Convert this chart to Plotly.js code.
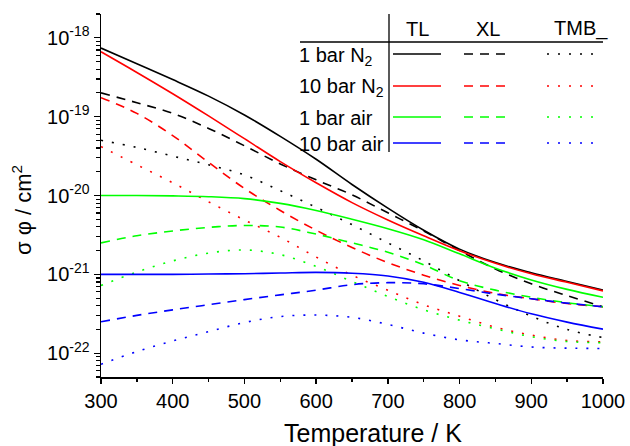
<!DOCTYPE html>
<html>
<head>
<meta charset="utf-8">
<script src="https://cdn.plot.ly/plotly-3.0.1.min.js"></script>
<style>
  html, body { margin: 0; padding: 0; background: #fff; }
  #chart { width: 630px; height: 446px; }
</style>
</head>
<body>
<div id="chart"></div>
<script>
// Temperature grid (K)
const temps = [300, 350, 400, 450, 500, 550, 600, 650, 700, 750, 800, 850, 900, 950, 1000];

// sigma*phi (cm^2) — TL model
const tl_n2_1   = [7.41e-19, 4.68e-19, 2.95e-19, 1.82e-19, 1.05e-19, 5.62e-20, 2.88e-20, 1.38e-20, 6.92e-21, 3.63e-21, 2.09e-21, 1.41e-21, 1.05e-21, 8.13e-22, 6.31e-22];
const tl_n2_10  = [6.64e-19, 3.63e-19, 1.95e-19, 1.02e-19, 5.25e-20, 2.69e-20, 1.45e-20, 8.13e-21, 4.90e-21, 3.09e-21, 2.00e-21, 1.38e-21, 1.02e-21, 7.94e-22, 6.17e-22];
const tl_air_1  = [1.00e-20, 1.00e-20, 9.89e-21, 9.66e-21, 9.12e-21, 7.94e-21, 6.46e-21, 5.01e-21, 3.80e-21, 2.75e-21, 1.82e-21, 1.20e-21, 8.51e-22, 6.46e-22, 5.13e-22];
const tl_air_10 = [1.00e-21, 1.00e-21, 1.00e-21, 1.01e-21, 1.02e-21, 1.04e-21, 1.06e-21, 1.035e-21, 9.55e-22, 7.94e-22, 5.89e-22, 4.27e-22, 3.16e-22, 2.48e-22, 2.02e-22];

// XL model
const xl_n2_1   = [2.00e-19, 1.50e-19, 1.10e-19, 7.08e-20, 4.27e-20, 2.51e-20, 1.58e-20, 1.02e-20, 6.03e-21, 3.55e-21, 2.00e-21, 1.17e-21, 7.59e-22, 5.37e-22, 3.89e-22];
const xl_n2_10  = [1.74e-19, 1.10e-19, 5.75e-20, 2.63e-20, 1.23e-20, 6.46e-21, 3.63e-21, 2.19e-21, 1.41e-21, 9.77e-22, 7.24e-22, 5.75e-22, 4.90e-22, 4.27e-22, 3.89e-22];
const xl_air_1  = [2.51e-21, 3.09e-21, 3.55e-21, 3.94e-21, 4.17e-21, 3.98e-21, 3.24e-21, 2.51e-21, 1.91e-21, 1.32e-21, 8.32e-22, 6.31e-22, 5.13e-22, 4.37e-22, 3.89e-22];
const xl_air_10 = [2.51e-22, 3.02e-22, 3.55e-22, 4.12e-22, 4.79e-22, 5.50e-22, 6.31e-22, 7.41e-22, 7.85e-22, 7.59e-22, 6.61e-22, 5.62e-22, 4.90e-22, 4.32e-22, 3.89e-22];

// TMB model
const tmb_n2_1   = [5.01e-20, 4.07e-20, 3.16e-20, 2.45e-20, 1.82e-20, 1.15e-20, 7.08e-21, 4.27e-21, 2.51e-21, 1.48e-21, 8.32e-22, 4.79e-22, 2.95e-22, 2.00e-22, 1.58e-22];
const tmb_n2_10  = [4.17e-20, 2.45e-20, 1.45e-20, 8.32e-21, 4.90e-21, 2.95e-21, 1.66e-21, 9.77e-22, 6.31e-22, 4.12e-22, 2.95e-22, 2.14e-22, 1.70e-22, 1.45e-22, 1.40e-22];
const tmb_air_1  = [7.24e-22, 1.07e-21, 1.48e-21, 1.86e-21, 2.04e-21, 1.78e-21, 1.26e-21, 8.13e-22, 5.25e-22, 3.55e-22, 2.63e-22, 2.04e-22, 1.62e-22, 1.41e-22, 1.36e-22];
const tmb_air_10 = [7.24e-23, 1.05e-22, 1.43e-22, 1.88e-22, 2.45e-22, 2.92e-22, 3.05e-22, 2.85e-22, 2.32e-22, 1.80e-22, 1.48e-22, 1.33e-22, 1.20e-22, 1.16e-22, 1.15e-22];

// Axis ticks and labels
const xTicks = [300, 400, 500, 600, 700, 800, 900, 1000];
const yTicks = [1e-22, 1e-21, 1e-20, 1e-19, 1e-18];
const yTickText = ['10<sup>-22</sup>', '10<sup>-21</sup>', '10<sup>-20</sup>', '10<sup>-19</sup>', '10<sup>-18</sup>'];

// Legend table text
const modelNames = ['TL', 'XL', 'TMB_'];
const conditionNames = ['1 bar N<sub>2</sub>', '10 bar N<sub>2</sub>', '1 bar air', '10 bar air'];

const colors = ['#000000', '#ff0000', '#00ff00', '#0000ff'];
const DASH = '9px,7px';
const DOT = '2px,9px';
const LW = 1.6;
const FONT = 'Liberation Sans, Arial, sans-serif';

// minor log ticks (2..9 of each decade)
const yMinor = [];
for (let d = -23; d <= -18; d++) {
  for (let m = 2; m <= 9; m++) yMinor.push(m * Math.pow(10, d));
}

const series = [
  [tl_n2_1, tl_n2_10, tl_air_1, tl_air_10],
  [xl_n2_1, xl_n2_10, xl_air_1, xl_air_10],
  [tmb_n2_1, tmb_n2_10, tmb_air_1, tmb_air_10]
];
const dashes = ['solid', DASH, DOT];

const traces = [];
// dotted first, then dashed, then solid on top
for (let k = 2; k >= 0; k--) {
  for (let c = 0; c < 4; c++) {
    traces.push({
      x: temps, y: series[k][c], type: 'scatter', mode: 'lines',
      line: { color: colors[c], width: LW, dash: dashes[k], shape: 'spline', smoothing: 1 },
      hoverinfo: 'skip', showlegend: false
    });
  }
}

// plot-area geometry in pixels (for the legend table)
const PL = 101, PR = 603, PT = 14, PB = 377;
const px = v => (v - PL) / (PR - PL);
const py = v => 1 - (v - PT) / (PB - PT);

const shapes = [
  { type: 'line', xref: 'paper', yref: 'paper', x0: px(300), x1: px(603), y0: py(42), y1: py(42), line: { color: '#000', width: 1.3 } },
  { type: 'line', xref: 'paper', yref: 'paper', x0: px(389), x1: px(389), y0: py(14), y1: py(152), line: { color: '#000', width: 1.3 } }
];
const rowY = [54, 86, 117, 143];
const sampleX = [[393, 441], [464, 509], [547, 593]];
for (let c = 0; c < 4; c++) {
  for (let k = 0; k < 3; k++) {
    shapes.push({
      type: 'line', xref: 'paper', yref: 'paper',
      x0: px(sampleX[k][0]), x1: px(sampleX[k][1]), y0: py(rowY[c]), y1: py(rowY[c]),
      line: { color: colors[c], width: LW, dash: dashes[k] }
    });
  }
}

const annotations = [];
const headX = [417, 488, 552];
const headAnchor = ['center', 'center', 'left'];
modelNames.forEach((t, i) => annotations.push({
  text: t, xref: 'paper', yref: 'paper', x: px(headX[i]), y: py(29),
  xanchor: headAnchor[i], yanchor: 'middle', showarrow: false,
  font: { family: FONT, size: 20, color: '#000' }
}));
const labelY = [57, 87, 118, 144];
conditionNames.forEach((t, i) => annotations.push({
  text: t, xref: 'paper', yref: 'paper', x: px(297), y: py(labelY[i]),
  xanchor: 'left', yanchor: 'middle', showarrow: false,
  font: { family: FONT, size: 20, color: '#000' }
}));
// axis titles
annotations.push({
  text: 'Temperature / K', xref: 'paper', yref: 'paper', x: px(373), y: py(433),
  xanchor: 'center', yanchor: 'middle', showarrow: false,
  font: { family: FONT, size: 25, color: '#000' }
});
annotations.push({
  text: 'σ φ / cm<sup>2</sup>', xref: 'paper', yref: 'paper', x: px(22), y: py(210),
  xanchor: 'center', yanchor: 'middle', textangle: -90, showarrow: false,
  font: { family: FONT, size: 22, color: '#000' }
});

const yRange = [Math.log10(5e-23), Math.log10(2e-18)];
const axisCommon = {
  showgrid: false, zeroline: false, showline: true, linecolor: '#000', linewidth: 1.5,
  tickcolor: '#000', tickwidth: 1.3, tickfont: { family: FONT, size: 20, color: '#000' }
};

const layout = {
  width: 630, height: 446,
  margin: { l: PL, r: 630 - PR, t: PT, b: 446 - PB },
  paper_bgcolor: '#fff', plot_bgcolor: '#fff',
  showlegend: false,
  xaxis: Object.assign({}, axisCommon, {
    range: [300, 1000], tickmode: 'array', tickvals: xTicks, ticks: 'outside', ticklen: 5,
    minor: { tickmode: 'linear', tick0: 300, dtick: 50, ticks: 'outside', ticklen: 3, tickcolor: '#000', tickwidth: 1.3 }
  }),
  yaxis: Object.assign({}, axisCommon, {
    type: 'log', range: yRange, tickmode: 'array', tickvals: yTicks, ticktext: yTickText,
    ticks: 'outside', ticklen: 6,
    minor: { tickmode: 'array', tickvals: yMinor, ticks: 'outside', ticklen: 3.5, tickcolor: '#000', tickwidth: 1.2 }
  }),
  xaxis2: Object.assign({}, axisCommon, {
    overlaying: 'x', side: 'top', anchor: 'y', range: [300, 1000], tickmode: 'array', tickvals: xTicks,
    ticks: 'inside', ticklen: 5, showticklabels: false,
    minor: { tickmode: 'linear', tick0: 300, dtick: 50, ticks: 'inside', ticklen: 3, tickcolor: '#000', tickwidth: 1.3 }
  }),
  yaxis2: Object.assign({}, axisCommon, {
    overlaying: 'y', side: 'right', anchor: 'x', type: 'log', range: yRange, tickmode: 'array', tickvals: yTicks,
    ticks: 'inside', ticklen: 5, showticklabels: false,
    minor: { tickmode: 'array', tickvals: yMinor, ticks: 'inside', ticklen: 3, tickcolor: '#000', tickwidth: 1.2 }
  }),
  shapes: shapes,
  annotations: annotations
};

Plotly.newPlot('chart', traces, layout, { displayModeBar: false, staticPlot: true });
</script>
</body>
</html>
